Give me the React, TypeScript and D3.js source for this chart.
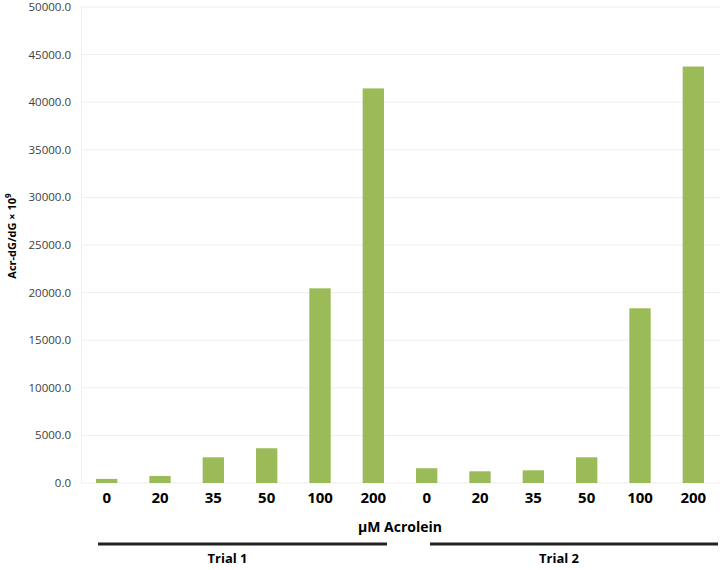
import React, { useEffect, useRef } from 'react';
import * as d3 from 'd3';

// doses per trial, and the measured adduct levels (Acr-dG/dG x 10^9)
const doses = ['0', '20', '35', '50', '100', '200'];
const trials = ['Trial 1', 'Trial 2'];
const trial1Values = [430, 740, 2700, 3650, 20450, 41450];
const trial2Values = [1550, 1230, 1330, 2700, 18350, 43750];
const yTicks = [0, 5000, 10000, 15000, 20000, 25000, 30000, 35000, 40000, 45000, 50000];

const W = 720;
const H = 570;

const App = () => {
  const svgRef = useRef(null);

  useEffect(() => {
    const svg = d3.select(svgRef.current);
    svg.selectAll('*').remove();

    const rows = [
      ...trial1Values.map((v, i) => ({ key: 't1-' + i, dose: doses[i], trial: 0, value: v })),
      ...trial2Values.map((v, i) => ({ key: 't2-' + i, dose: doses[i], trial: 1, value: v })),
    ];

    const x = d3.scaleBand()
      .domain(rows.map(d => d.key))
      .range([80, 720])
      .paddingInner(0.6)
      .paddingOuter(0.3);

    const y = d3.scaleLinear()
      .domain([0, 50000])
      .range([483, 7]);

    // gridlines
    svg.append('g')
      .selectAll('line')
      .data(yTicks)
      .join('line')
      .attr('x1', 81)
      .attr('x2', 720)
      .attr('y1', d => y(d))
      .attr('y2', d => y(d))
      .attr('stroke', '#eeeeee')
      .attr('stroke-width', 1);

    // faint left axis
    svg.append('line')
      .attr('x1', 81.5).attr('x2', 81.5)
      .attr('y1', y(50000)).attr('y2', y(0))
      .attr('stroke', '#eeeeee');

    // y tick labels
    svg.append('g')
      .selectAll('text')
      .data(yTicks)
      .join('text')
      .attr('x', 71)
      .attr('y', d => y(d))
      .attr('dy', '0.35em')
      .attr('text-anchor', 'end')
      .attr('font-family', '"Open Sans", sans-serif')
      .attr('font-size', 11.5)
      .attr('fill', '#404040')
      .text(d => d3.format('.1f')(d));

    // bars
    svg.append('g')
      .selectAll('rect')
      .data(rows)
      .join('rect')
      .attr('x', d => x(d.key))
      .attr('width', x.bandwidth())
      .attr('y', d => y(d.value))
      .attr('height', d => y(0) - y(d.value))
      .attr('fill', '#9bbb59');

    // dose labels
    svg.append('g')
      .selectAll('text')
      .data(rows)
      .join('text')
      .attr('x', d => x(d.key) + x.bandwidth() / 2)
      .attr('y', 503)
      .attr('text-anchor', 'middle')
      .attr('font-family', '"Open Sans", sans-serif')
      .attr('font-weight', 'bold')
      .attr('font-size', 15)
      .attr('fill', '#000')
      .text(d => d.dose);

    // x axis title
    svg.append('text')
      .attr('x', 400)
      .attr('y', 532)
      .attr('text-anchor', 'middle')
      .attr('font-family', '"Open Sans", sans-serif')
      .attr('font-weight', 'bold')
      .attr('font-size', 14)
      .text('μM Acrolein');

    // trial brackets
    const spans = [[98, 387], [430, 718]];
    trials.forEach((t, i) => {
      svg.append('line')
        .attr('x1', spans[i][0]).attr('x2', spans[i][1])
        .attr('y1', 544).attr('y2', 544)
        .attr('stroke', '#222')
        .attr('stroke-width', 3);
      svg.append('text')
        .attr('x', (spans[i][0] + spans[i][1]) / 2 - 15)
        .attr('y', 563)
        .attr('text-anchor', 'middle')
        .attr('font-family', '"Open Sans", sans-serif')
        .attr('font-weight', 'bold')
        .attr('font-size', 13)
        .text(t);
    });

    // y axis title
    const yt = svg.append('text')
      .attr('transform', 'translate(16, 236) rotate(-90)')
      .attr('text-anchor', 'middle')
      .attr('font-family', '"Open Sans", sans-serif')
      .attr('font-weight', 'bold')
      .attr('font-size', 11);
    yt.append('tspan').text('Acr-dG/dG × 10');
    yt.append('tspan').attr('dy', -5).attr('font-size', 8).text('9');
  }, []);

  return (
    <svg ref={svgRef} width={W} height={H}
      style={{ position: 'absolute', left: 0, top: 0, background: '#fff' }}></svg>
  );
};

export default App;
